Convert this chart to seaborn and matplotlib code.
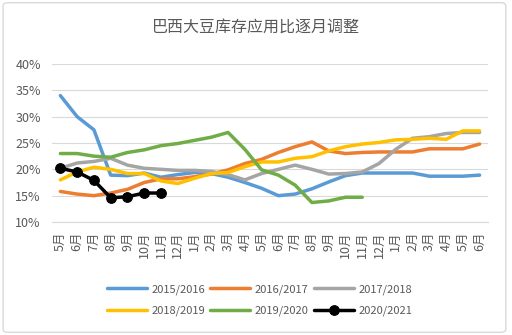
import numpy as np
import pandas as pd
import matplotlib
matplotlib.use("Agg")
import matplotlib.pyplot as plt
from matplotlib.patches import FancyBboxPatch
import seaborn as sns

months = ["5月", "6月", "7月", "8月", "9月", "10月", "11月", "12月", "1月", "2月", "3月", "4月",
          "5月", "6月", "7月", "8月", "9月", "10月", "11月", "12月", "1月", "2月", "3月", "4月",
          "5月", "6月"]

seasons = ["2015/2016", "2016/2017", "2017/2018", "2018/2019", "2019/2020", "2020/2021"]

s2015 = [34.0, 30.0, 27.5, 18.9, 18.8, 19.3, 18.5, 19.0, 19.4, 19.2, 18.5, 17.5, 16.4,
         15.0, 15.3, 16.3, 17.6, 18.8, 19.3, 19.3, 19.3, 19.3, 18.7, 18.7, 18.7, 18.9]
s2016 = [15.8, 15.3, 15.0, 15.5, 16.2, 17.5, 18.2, 18.2, 18.6, 19.1, 19.9, 21.1, 21.9,
         23.2, 24.3, 25.2, 23.5, 23.0, 23.2, 23.3, 23.3, 23.3, 23.9, 23.9, 23.9, 24.8]
s2017 = [20.2, 21.2, 21.5, 22.1, 20.8, 20.2, 20.0, 19.8, 19.8, 19.6, 19.0, 18.0, 19.2,
         20.0, 20.8, 20.0, 19.1, 19.2, 19.5, 21.1, 23.8, 25.9, 26.2, 26.8, 27.0, 27.0]
s2018 = [18.0, 19.5, 20.4, 20.0, 19.2, 19.2, 17.8, 17.3, 18.3, 19.2, 19.4, 20.5, 21.4,
         21.4, 22.1, 22.4, 23.5, 24.3, 24.8, 25.1, 25.6, 25.7, 25.9, 25.7, 27.3, 27.3]
s2019 = [23.0, 23.0, 22.5, 22.3, 23.2, 23.7, 24.5, 24.9, 25.5, 26.1, 27.0, 23.8, 19.9,
         18.9, 17.0, 13.7, 14.0, 14.7, 14.7]
s2020 = [20.2, 19.5, 17.9, 14.6, 14.8, 15.5, 15.5]

colors = ["#5B9BD5", "#ED7D31", "#A5A5A5", "#FFC000", "#70AD47", "#000000"]
yticks = [10, 15, 20, 25, 30, 35, 40]

series = [s2015, s2016, s2017, s2018, s2019, s2020]
rows = []
for name, vals in zip(seasons, series):
    for i, v in enumerate(vals):
        rows.append({"idx": i, "value": v, "season": name})
df = pd.DataFrame(rows)

sns.set_theme(style="white")
plt.rcParams["font.family"] = ["Noto Sans CJK SC", "DejaVu Sans"]

fig = plt.figure(figsize=(5.12, 3.35), dpi=100)
ax = fig.add_axes([52 / 512, 1 - 222 / 335, 436 / 512, (222 - 64) / 335])

for name, col in zip(seasons, colors):
    sub = df[df["season"] == name]
    if name == "2020/2021":
        sns.lineplot(data=sub, x="idx", y="value", color=col, lw=2.5, marker="o",
                     markersize=7, markeredgecolor=col, ax=ax, label=name, zorder=5)
    else:
        sns.lineplot(data=sub, x="idx", y="value", color=col, lw=2.5, ax=ax,
                     label=name, zorder=3)

ax.set_xlim(-0.5, len(months) - 0.5)
ax.set_ylim(10, 40)
ax.set_yticks(yticks)
ax.set_yticklabels([f"{t}%" for t in yticks])
ax.set_xticks(range(len(months)))
ax.set_xticklabels(months, rotation=90)
ax.set_xticks(np.arange(-0.5, len(months), 1.0), minor=True)
ax.set_xlabel("")
ax.set_ylabel("")
ax.grid(axis="y", color="#D9D9D9", lw=0.8)
ax.set_axisbelow(True)
for s in ["left", "right", "top"]:
    ax.spines[s].set_visible(False)
ax.spines["bottom"].set_color("#D9D9D9")
ax.spines["bottom"].set_linewidth(0.8)
ax.tick_params(axis="x", which="major", length=0, pad=7, labelsize=9, labelcolor="#595959")
ax.tick_params(axis="x", which="minor", length=3.5, width=0.8, color="#D9D9D9", direction="out")
ax.tick_params(axis="y", length=0, pad=8, labelsize=9, labelcolor="#595959")

handles, labels = ax.get_legend_handles_labels()
ax.get_legend().remove()
order = [0, 3, 1, 4, 2, 5]
fig.legend([handles[i] for i in order], [labels[i] for i in order], ncol=3, loc="center",
           bbox_to_anchor=(0.507, 0.104), frameon=False, handlelength=3.6, columnspacing=0.5,
           handletextpad=0.4, fontsize=8, labelcolor="#595959", labelspacing=1.0)

fig.text(0.5, 1 - 27 / 335, "巴西大豆库存应用比逐月调整", ha="center", va="center",
         fontsize=11.5, color="#595959")

fig.patches.append(FancyBboxPatch((0.006, 0.008), 0.982, 0.984, boxstyle="round,pad=0,rounding_size=0.01",
                                  transform=fig.transFigure, fill=False, ec="#D9D9D9", lw=1))

fig.savefig("out.png", dpi=100)
